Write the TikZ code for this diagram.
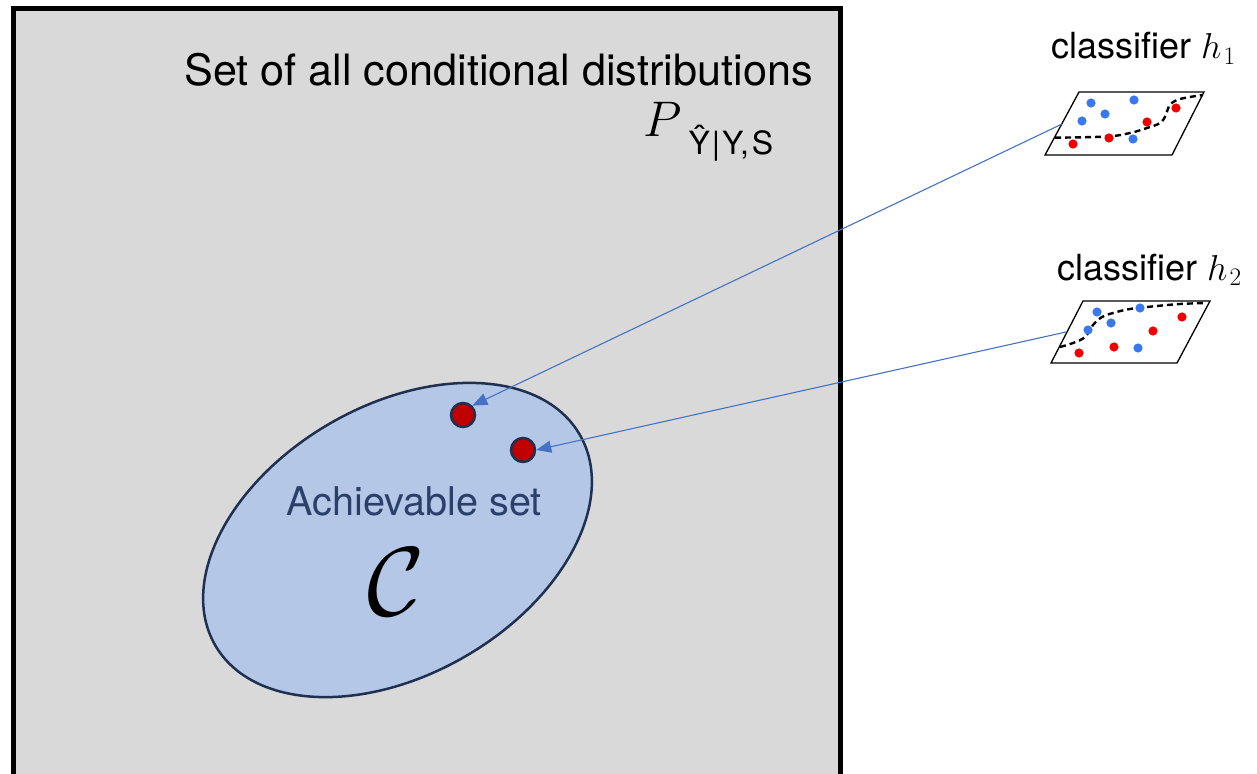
\RequirePackage{fix-cm}
\documentclass[tikz,border=0pt]{standalone}
\usepackage[no-math]{fontspec}
\newfontfamily\hv{TeX Gyre Heros}
\usetikzlibrary{arrows.meta,shapes.geometric}
\definecolor{bggray}{HTML}{D9D9D9}
\definecolor{setblue}{HTML}{B4C7E7}
\definecolor{navy}{HTML}{1F3050}
\definecolor{dotred}{HTML}{C00000}
\definecolor{arrowblue}{HTML}{4472C4}
\definecolor{ptblue}{HTML}{3A78F2}
\definecolor{ptred}{HTML}{F00000}
\definecolor{labelnavy}{HTML}{2B3F6B}
\tikzset{
  dotnode/.style={circle, fill=dotred, draw=navy, line width=2.5pt, minimum size=24pt, inner sep=0pt},
  link/.style={arrowblue, line width=1.1pt, -{Triangle[length=15pt,width=12pt]}},
  bpt/.style={fill=ptblue},
  rpt/.style={fill=ptred},
  panel/.style={draw=black, line width=1.3pt, fill=white},
  boundary/.style={black, line width=2.4pt, dash pattern=on 6pt off 4pt},
  txt/.style={inner sep=0pt, anchor=base west},
}
\begin{document}
\begin{tikzpicture}[x=1pt,y=-1pt]
\useasboundingbox (0,0) rectangle (1257,773);
\fill[white] (0,0) rectangle (1257,773);
\begin{scope}
\clip (0,0) rectangle (1257,773);
% big frame
\draw[line width=5pt, fill=bggray] (13.9,8.5) rectangle (840.5,780);
\end{scope}

\node[txt, font=\hv\fontsize{43.2}{48}\selectfont] (title) at (184,86) {Set of all conditional distributions};
\node[txt] (P) at (643,136) {\fontsize{50}{55}\selectfont$P$\kern7pt\raisebox{-18pt}{\hv\fontsize{32}{36}\selectfont Ŷ\kern2pt|\kern2pt Y,\kern3pt S}};

% achievable set
\node[ellipse, draw=navy, fill=setblue, line width=2.5pt, minimum width=421pt, minimum height=269.4pt, rotate=30, inner sep=0pt] (C) at (397.5,540) {};
\node[inner sep=0pt, anchor=base, text=labelnavy, font=\hv\fontsize{39.6}{44}\selectfont] (ach) at (414,515.5) {Achievable set};
\node[inner sep=0pt] (cal) at (396,582) {\fontsize{98}{100}\selectfont$\mathcal{C}$};
\node[dotnode] (d1) at (463,415) {};
\node[dotnode] (d2) at (523,450) {};

% classifier h1
\node[txt, font=\hv\fontsize{36}{40}\selectfont] (lab1) at (1051,59) {classifier $h_{\kern2pt 1}$};
\draw[panel] (1045,155) -- (1172,155) -- (1204,92) -- (1079,92) -- cycle;
\draw[boundary] plot[smooth, tension=0.6] coordinates {(1055,137.7) (1107,136.5) (1130,133) (1147,128) (1160,123) (1166,115) (1169,106) (1177,100) (1190,97) (1203,95)};
\foreach \p in {(1091,103),(1134,100),(1105,114),(1082,121),(1133,139)} \fill[bpt] \p circle (4.6);
\foreach \p in {(1176,108),(1147,122),(1109,138),(1073,144)} \fill[rpt] \p circle (4.6);
\coordinate (s1) at (1062,124);

% classifier h2
\node[txt, font=\hv\fontsize{36}{40}\selectfont] (lab2) at (1057,280) {classifier $h_{\kern2pt 2}$};
\draw[panel] (1051,363) -- (1177,363) -- (1210,301) -- (1083,301) -- cycle;
\draw[boundary] plot[smooth, tension=0.6] coordinates {(1060,347) (1073,343) (1085,337) (1093,325) (1102,317) (1113,313) (1130,309) (1157,306) (1180,304) (1205,303)};
\foreach \p in {(1097,312),(1140,308),(1111,323),(1088,330),(1138,348)} \fill[bpt] \p circle (4.6);
\foreach \p in {(1182,317),(1153,331),(1114,347),(1079,353)} \fill[rpt] \p circle (4.6);
\coordinate (s2) at (1066,332);

% connectors
\draw[link] (s1) -- (d1.45);
\draw[link] (s2) -- (d2.east);
\end{tikzpicture}
\end{document}
